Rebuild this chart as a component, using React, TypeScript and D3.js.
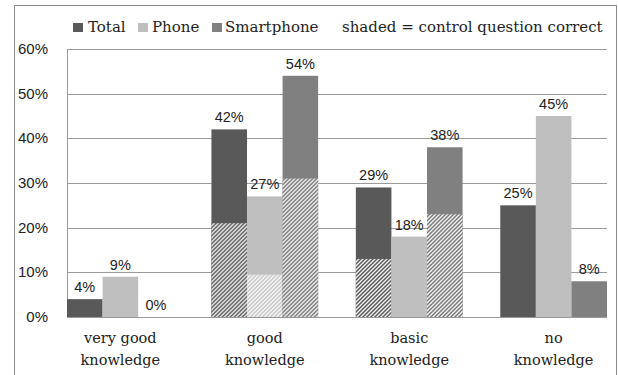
import React from "react";
import * as d3 from "d3";

// Knowledge levels on the x axis (two lines each)
const categories: string[][] = [
  ["very good", "knowledge"],
  ["good", "knowledge"],
  ["basic", "knowledge"],
  ["no", "knowledge"],
];

const seriesNames = ["Total", "Phone", "Smartphone"];

// Share of respondents (%) per knowledge level
const totalValues = [4, 42, 29, 25];
const phoneValues = [9, 27, 18, 45];
const smartphoneValues = [0, 54, 38, 8];

// Part of each bar that also answered the control question correctly (%)
const totalCorrect = [0, 21, 13, 0];
const phoneCorrect = [0, 9.5, 0, 0];
const smartphoneCorrect = [0, 31, 23, 0];

const yTicks = [0, 10, 20, 30, 40, 50, 60];

const W = 618;
const H = 375;
const plot = { left: 67, right: 607, top: 49, bottom: 317 };

const colors = ["#595959", "#bfbfbf", "#808080"];
const hatchColors = ["#4f4f4f", "#c0c0c0", "#707070"];

const serif = "'DejaVu Serif', serif";
const sans = "'Liberation Sans', Arial, sans-serif";

export default function App() {
  const x0 = d3
    .scaleBand<number>()
    .domain(categories.map((_, i) => i))
    .range([plot.left, plot.right])
    .paddingInner(0.261)
    .paddingOuter(0);
  const x1 = d3
    .scaleBand<number>()
    .domain(seriesNames.map((_, i) => i))
    .range([0, x0.bandwidth()])
    .padding(0);
  const y = d3.scaleLinear().domain([0, 60]).range([plot.bottom, plot.top]);

  const values = [totalValues, phoneValues, smartphoneValues];
  const correct = [totalCorrect, phoneCorrect, smartphoneCorrect];

  const legendItems = [
    { sq: 73, tx: 88 },
    { sq: 138, tx: 152 },
    { sq: 212, tx: 225 },
  ];

  return (
    <svg
      width={W}
      height={H}
      style={{ position: "absolute", left: 0, top: 0, background: "#fff" }}
    >
      <defs>
        {hatchColors.map((c, i) => (
          <pattern
            key={i}
            id={`hatch${i}`}
            patternUnits="userSpaceOnUse"
            width={4}
            height={4}
          >
            <rect width={4} height={4} fill="#fff" />
            <path
              d="M-1,1 l2,-2 M0,4 l4,-4 M3,5 l2,-2"
              stroke={c}
              strokeWidth={1.5}
            />
          </pattern>
        ))}
      </defs>

      {/* chart frame */}
      <rect x={14.5} y={5.5} width={602} height={380} fill="none" stroke="#8a8a8a" strokeWidth={1} />

      {/* legend */}
      {legendItems.map((l, i) => (
        <g key={i}>
          <rect x={l.sq} y={23} width={10} height={9} fill={colors[i]} />
          <text x={l.tx} y={32} fontFamily={serif} fontSize={15} fill="#222">
            {seriesNames[i]}
          </text>
        </g>
      ))}
      <text x={342} y={32} fontFamily={serif} fontSize={15} fill="#222">
        shaded = control question correct
      </text>

      {/* gridlines and y ticks */}
      {yTicks.map((t) => (
        <g key={t}>
          <line
            x1={plot.left}
            x2={plot.right}
            y1={Math.round(y(t)) + 0.5}
            y2={Math.round(y(t)) + 0.5}
            stroke="#9a9a9a"
            strokeWidth={1}
          />
          <text
            x={48}
            y={y(t) + 5}
            textAnchor="end"
            fontFamily={sans}
            fontSize={15}
            fill="#222"
          >
            {t}%
          </text>
        </g>
      ))}
      <line
        x1={plot.left + 0.5}
        x2={plot.left + 0.5}
        y1={plot.top}
        y2={plot.bottom}
        stroke="#9a9a9a"
      />

      {/* bars */}
      {categories.map((cat, ci) => (
        <g key={ci} transform={`translate(${x0(ci)},0)`}>
          {values.map((vals, si) => {
            const v = vals[ci];
            const c = correct[si][ci];
            const bx = x1(si)!;
            const bw = x1.bandwidth();
            return (
              <g key={si}>
                <rect
                  x={bx}
                  y={y(v)}
                  width={bw}
                  height={y(0) - y(v)}
                  fill={colors[si]}
                />
                {c > 0 && (
                  <rect
                    x={bx}
                    y={y(c)}
                    width={bw}
                    height={y(0) - y(c)}
                    fill={`url(#hatch${si})`}
                  />
                )}
                <text
                  x={bx + bw / 2}
                  y={y(v) - 7}
                  textAnchor="middle"
                  fontFamily={sans}
                  fontSize={14.5}
                  fill="#222"
                >
                  {v}%
                </text>
              </g>
            );
          })}
          {cat.map((line, li) => (
            <text
              key={li}
              x={x0.bandwidth() / 2}
              y={343 + li * 22}
              textAnchor="middle"
              fontFamily={serif}
              fontSize={14.5}
              fill="#222"
            >
              {line}
            </text>
          ))}
        </g>
      ))}
    </svg>
  );
}
